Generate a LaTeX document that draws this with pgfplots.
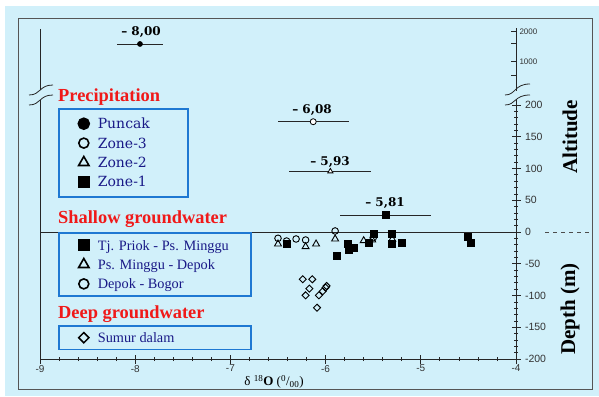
\documentclass[border=0pt]{standalone}
\usepackage{pgfplots}
\pgfplotsset{compat=1.18}
\usepackage{fontspec}
\setmainfont{Liberation Serif}
\newfontfamily\dejaserif{DejaVu Serif}
\newfontfamily\libsans{Liberation Sans}
\definecolor{bgc}{RGB}{209,240,250}
\definecolor{framec}{RGB}{85,85,85}
\definecolor{lgblue}{RGB}{30,120,210}
\definecolor{hdred}{RGB}{240,25,25}
\definecolor{navy}{RGB}{25,25,135}
\pgfplotsset{
  lgaxis/.style={at={(40pt,37pt)}, anchor=south west, scale only axis, width=476pt, height=331pt,
    xmin=-9, xmax=-4, ymin=-200, ymax=321.26, hide axis,
    legend cell align=left,
    legend image code/.code={\path[draw=none,fill=none] (0pt,-9.7pt) rectangle (39pt,9.7pt); \draw[##1] plot coordinates {(25pt,0pt)};},
  },
}
\begin{document}
\begin{tikzpicture}[x=1pt,y=1pt]
\fill[white] (0,0) rectangle (599,396);
\fill[bgc] (5,0) rectangle (599,390);
\draw[framec, line width=1pt] (18,7) rectangle (592,377);
\begin{axis}[
  at={(40pt,37pt)}, anchor=south west, scale only axis, width=476pt, height=331pt,
  xmin=-9, xmax=-4, ymin=-200, ymax=321.26,
  axis x line=bottom, axis y line=right,
  axis line style={-, line width=0.8pt, black!85},
  xtick={-9,-8,-7,-6,-5,-4}, xticklabels={-9,-8,-7,-6,-5,-4},
  minor x tick num=4,
  ytick={-200,-150,-100,-50,0,50,100,150,200},
  yticklabels={-200,-150,-100,-50,0,50,100,150,200},
  minor ytick={-190,-180,...,190},
  extra y ticks={247.2,268.2,297.2,315.4}, extra y tick labels={,1000,,2000},
  extra y tick style={tick align=inside, major tick length=5pt,
     yticklabel style={font=\libsans\fontsize{8}{8}\selectfont, xshift=-1pt}},
  tick align=center, major tick length=9pt, minor tick length=4pt,
  tick style={line width=0.7pt, black!85},
  xticklabel style={font=\libsans\fontsize{10}{10}\selectfont, text=black!80, yshift=2pt},
  yticklabel style={font=\libsans\fontsize{10.5}{10.5}\selectfont, text=black!80, anchor=west, xshift=1pt},
  clip=false,
]
\addplot[black!85, line width=0.7pt] coordinates {(-9,0) (-4,0)};
% precipitation
\addplot[only marks, mark=*, mark size=2.6pt, black,
  error bars/.cd, x dir=both, x explicit, error mark=none, error bar style={line width=0.8pt, black!85}]
  coordinates {(-7.95,296.1) +- (0.245,0)};
\addplot[only marks, mark=*, mark size=3pt, black, mark options={fill=white, line width=0.8pt},
  error bars/.cd, x dir=both, x explicit, error mark=none, error bar style={line width=0.8pt, black!85}]
  coordinates {(-6.13,173.7) +- (0.375,0)};
\addplot[only marks, mark=triangle*, mark size=3pt, black, mark options={fill=white, line width=0.8pt},
  error bars/.cd, x dir=both, x explicit, error mark=none, error bar style={line width=0.8pt, black!85}]
  coordinates {(-5.95,95.5) +- (0.43,0)};
\addplot[only marks, mark=square*, mark size=3.3pt, black,
  error bars/.cd, x dir=both, x explicit, error mark=none, error bar style={line width=0.8pt, black!85}]
  coordinates {(-5.37,26.8) +- (0.48,0)};
% shallow groundwater
\addplot[only marks, mark=triangle, mark size=4pt, black, mark options={line width=0.9pt}] coordinates {
 (-6.50,-18.9) (-6.21,-23.1) (-6.10,-18.9) (-5.90,-11) (-5.60,-13.7) (-5.51,-12.6) (-5.30,-11.5)};
\addplot[only marks, mark=o, mark size=3.3pt, black, mark options={line width=0.9pt}] coordinates {
 (-6.50,-9.9) (-6.41,-14.2) (-6.31,-11) (-6.21,-12.6) (-5.90,1.6) (-5.50,-9)};
\addplot[only marks, mark=square*, mark size=3.5pt, black] coordinates {
 (-6.41,-18.1) (-5.88,-37.8) (-5.77,-17.8) (-5.76,-27.2) (-5.71,-24.1) (-5.55,-16.9)
 (-5.50,-3.1) (-5.31,-2) (-5.31,-17.8) (-5.20,-16.9) (-4.51,-7.4) (-4.48,-16.9)};
% deep groundwater
\addplot[only marks, mark=square, mark size=2.5pt, black, mark options={rotate=45, line width=0.9pt}] coordinates {
 (-6.24,-74.5) (-6.14,-74.5) (-6.17,-89.2) (-6.21,-99.7) (-6.07,-99.7)
 (-6.03,-93.4) (-6.00,-87.7) (-5.99,-85) (-6.09,-119.2)};
\end{axis}
% legends
\begin{axis}[lgaxis,
  legend style={at={(0.03782,0.75831)}, anchor=north west, draw=lgblue, line width=1.6pt, fill=none,
    inner xsep=0pt, inner ysep=5.2pt, row sep=0pt, column sep=0pt,
    nodes={inner sep=0pt, text height=10pt, text depth=0pt, text=navy},
    font=\dejaserif\fontsize{14}{14}\selectfont}]
\addlegendimage{only marks, mark=*, mark size=5.5pt, black}
\addlegendentry{\makebox[90pt][l]{Puncak}}
\addlegendimage{only marks, mark=o, mark size=5pt, black, mark options={line width=1.6pt}}
\addlegendentry{\makebox[90pt][l]{Zone-3}}
\addlegendimage{only marks, mark=triangle, mark size=6pt, black, mark options={line width=1.6pt}}
\addlegendentry{\makebox[90pt][l]{Zone-2}}
\addlegendimage{only marks, mark=square*, mark size=5.2pt, black}
\addlegendentry{\makebox[90pt][l]{Zone-1}}
\end{axis}
\begin{axis}[lgaxis,
  legend style={at={(0.03782,0.38369)}, anchor=north west, draw=lgblue, line width=1.6pt, fill=none,
    inner xsep=0pt, inner ysep=2.6pt, row sep=0pt, column sep=0pt,
    nodes={inner sep=0pt, text height=10pt, text depth=0pt, text=navy},
    font=\fontsize{14.3}{14.3}\selectfont}]
\addlegendimage{only marks, mark=square*, mark size=5.2pt, black}
\addlegendentry{\makebox[153pt][l]{Tj. Priok - Ps. Minggu}}
\addlegendimage{only marks, mark=triangle, mark size=6pt, black, mark options={line width=1.6pt}}
\addlegendentry{\makebox[153pt][l]{Ps. Minggu - Depok}}
\addlegendimage{only marks, mark=o, mark size=5pt, black, mark options={line width=1.6pt}}
\addlegendentry{\makebox[153pt][l]{Depok - Bogor}}
\end{axis}
\begin{axis}[lgaxis,
  legend style={at={(0.03782,0.10272)}, anchor=north west, draw=lgblue, line width=1.6pt, fill=none,
    inner xsep=0pt, inner ysep=2.2pt, row sep=0pt, column sep=0pt,
    nodes={inner sep=0pt, text height=10pt, text depth=0pt, text=navy},
    font=\fontsize{14.3}{14.3}\selectfont}]
\addlegendimage{only marks, mark=square, mark size=3.6pt, black, mark options={rotate=45, line width=1.5pt}}
\addlegendentry{\makebox[153pt][l]{Sumur dalam}}
\end{axis}
% axis breaks
\fill[bgc] (513,297) rectangle (520,305);
\draw[black!85, line width=0.8pt] (40,367) -- (40,306);
\draw[black!85, line width=0.8pt] (40,296) -- (40,37);
\draw[black!85, line width=0.8pt] (29,301) .. controls (41,301) and (39,311) .. (53,311);
\draw[black!85, line width=0.8pt] (29,291) .. controls (41,291) and (39,301) .. (53,301);
\draw[black!85, line width=0.8pt] (505,301) .. controls (516,301) and (514,312) .. (530,312);
\draw[black!85, line width=0.8pt] (505,291) .. controls (516,291) and (514,301) .. (530,301);
\draw[black!70, line width=0.8pt, dash pattern=on 4pt off 4pt] (545,164) -- (592,164);
% headers
\node[anchor=base west, inner sep=0pt, text=hdred, font=\bfseries\fontsize{18.4}{18.4}\selectfont] at (58,294.5) {Precipitation};
\node[anchor=base west, inner sep=0pt, text=hdred, font=\bfseries\fontsize{18.4}{18.4}\selectfont] at (58,172) {Shallow groundwater};
\node[anchor=base west, inner sep=0pt, text=hdred, font=\bfseries\fontsize{18.4}{18.4}\selectfont] at (58,77) {Deep groundwater};
% value labels
\node[inner sep=0pt, font=\dejaserif\bfseries\fontsize{12}{12}\selectfont] at (141,364) {– 8,00};
\node[inner sep=0pt, font=\dejaserif\bfseries\fontsize{12}{12}\selectfont] at (312,286) {– 6,08};
\node[inner sep=0pt, font=\dejaserif\bfseries\fontsize{12}{12}\selectfont] at (330,234) {– 5,93};
\node[inner sep=0pt, font=\dejaserif\bfseries\fontsize{12}{12}\selectfont] at (385,193) {– 5,81};
% axis titles
\node[rotate=90, inner sep=0pt, font=\bfseries\fontsize{21}{21}\selectfont] at (570,259) {Altitude};
\node[rotate=90, inner sep=0pt, font=\bfseries\fontsize{21}{21}\selectfont] at (570,87) {Depth (m)};
\node[inner sep=0pt, font=\fontsize{13}{13}\selectfont] at (274,14) {δ \textsuperscript{18}\textbf{O} (\textsuperscript{0}/\textsubscript{00})};
\end{tikzpicture}
\end{document}
